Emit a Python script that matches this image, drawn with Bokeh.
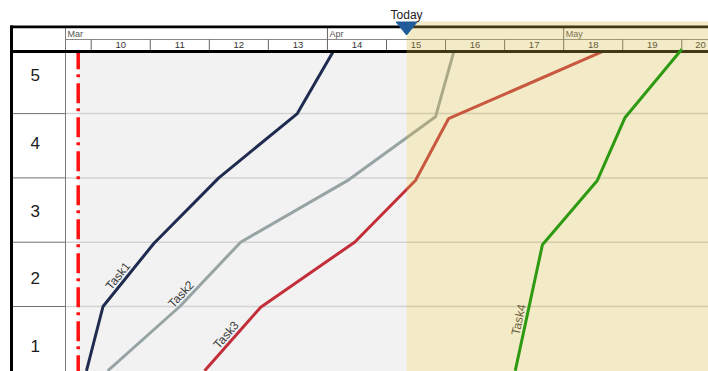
import math
from bokeh.plotting import figure
from bokeh.models import Range1d
from bokeh.core.properties import value
from bokeh.embed import file_html
from bokeh.resources import INLINE

# ---------------- data ----------------
row_labels = ["1", "2", "3", "4", "5"]
row_bounds = [1, 2, 3, 4]
day_labels = [10, 11, 12, 13, 14, 15, 16, 17, 18, 19, 20]
month_labels = ["Mar", "Apr", "May"]
month_start_day = [9.565, 14, 18]
start_day = 9.78
today_day = 15.34

task_names = ["Task1", "Task2", "Task3", "Task4"]
task1_day = [9.92, 10.20, 11.06, 12.16, 13.49, 14.12]
task1_row = [0, 1, 1.98, 3, 4, 5]
task2_day = [10.28, 11.50, 12.53, 14.36, 15.83, 16.15]
task2_row = [0, 1, 2, 2.97, 3.95, 5]
task3_day = [11.92, 12.87, 14.46, 15.49, 16.05, 18.74]
task3_row = [0, 0.99, 2, 2.96, 3.92, 5]
task4_day = [17.18, 17.64, 18.57, 19.04, 20.00]
task4_row = [0, 1.96, 2.96, 3.94, 5]

# ---------------- layout / style ----------------
W, H = 708, 371
XS = 59.06          # px per day
YS = 64.3           # px per row
X10 = 90.7          # px of day 10 start
Y0 = 370.3          # px of row 0


def dx(px):
    return 10 + (px - X10) / XS


def dy(py):
    return (Y0 - py) / YS


FONT = value("Liberation Sans")
task_colors = ["#1f2b4f", "#98a4a4", "#c22f3a", "#2e9a12"]
label_at = [1.40, 1.11, 0.48, 0.77]
cat_label_pos = [0.393, 1.451, 2.493, 3.535, 4.593]

p = figure(width=W, height=H, x_range=Range1d(dx(0), dx(W)), y_range=Range1d(dy(H), dy(0)),
           toolbar_location=None, output_backend="svg", min_border=0)
p.axis.visible = False
p.grid.visible = False
p.outline_line_color = None
p.background_fill_color = "white"
p.border_fill_color = "white"

left_px, right_px = 65, W
y_bot = dy(H)
hdr_bottom = dy(51)

# past region (grey)
p.quad(left=[start_day], right=[today_day], bottom=[y_bot], top=[hdr_bottom],
       fill_color="#f2f2f2", line_color=None)

# row grid lines in plot area
p.segment(x0=[dx(left_px)] * len(row_bounds), x1=[dx(right_px)] * len(row_bounds),
          y0=row_bounds, y1=row_bounds, line_color="#d3d3d3", line_width=1.5)

# start marker
p.line([start_day, start_day], [5, y_bot], line_color="#ff1010", line_width=3.5,
       line_dash="20 5 3 6")

tasks = [(task1_day, task1_row), (task2_day, task2_row), (task3_day, task3_row), (task4_day, task4_row)]
for i, (d, r) in enumerate(tasks[:3]):
    p.line(d, r, line_color=task_colors[i], line_width=3)

# header background
p.quad(left=[dx(11)], right=[dx(W)], bottom=[hdr_bottom], top=[dy(26)],
       fill_color="white", line_color=None)

# left column row lines
p.segment(x0=[dx(12)] * len(row_bounds), x1=[dx(left_px)] * len(row_bounds),
          y0=row_bounds, y1=row_bounds, line_color="#707070", line_width=1)
# column separator
p.segment(x0=[dx(left_px)], x1=[dx(left_px)], y0=[dy(27)], y1=[y_bot], line_color="#7a7a7a", line_width=1)

# header lines
p.segment(x0=[dx(left_px)], x1=[dx(W)], y0=[dy(39)], y1=[dy(39)], line_color="#8a8a8a", line_width=1)
p.segment(x0=day_labels, x1=day_labels, y0=[dy(39)] * len(day_labels), y1=[dy(50)] * len(day_labels),
          line_color="#666666", line_width=1)
ms = month_start_day[1:]
p.segment(x0=ms, x1=ms, y0=[dy(27)] * len(ms), y1=[dy(39)] * len(ms), line_color="#666666", line_width=1)
p.segment(x0=[dx(10)], x1=[dx(W)], y0=[dy(26.3)], y1=[dy(26.3)], line_color="black", line_width=2.8)
p.segment(x0=[dx(10)], x1=[dx(W)], y0=[dy(51)], y1=[dy(51)], line_color="black", line_width=3)
p.segment(x0=[dx(11)], x1=[dx(11)], y0=[dy(25)], y1=[y_bot], line_color="black", line_width=3)

# day labels (centred in the day, kept inside the view)
x_max = dx(W) - 8 / XS
day_x = [min(d + 0.5, x_max) for d in day_labels]
p.text(x=day_x, y=[dy(44.5)] * len(day_labels), text=[str(d) for d in day_labels],
       text_font=FONT, text_font_size=value("9.5px"), text_color="#333333",
       text_align="center", text_baseline="middle")

# month labels
p.text(x=[m + 2 / XS for m in month_start_day], y=[dy(33)] * len(month_labels), text=month_labels,
       text_font=FONT, text_font_size=value("9px"), text_color="#555555",
       text_align="left", text_baseline="middle")

# category labels
p.text(x=[dx(34.7)] * len(row_labels), y=cat_label_pos, text=row_labels,
       text_font=FONT, text_font_size=value("17px"), text_color="#1a1a1a",
       text_align="center", text_baseline="middle")

# task labels along their lines
lx, ly, la = [], [], []
for (d, r), at in zip(tasks, label_at):
    for k in range(len(r) - 1):
        if r[k] <= at <= r[k + 1]:
            t = (at - r[k]) / (r[k + 1] - r[k])
            xx = d[k] + t * (d[k + 1] - d[k])
            ang = math.atan2((r[k + 1] - r[k]) * YS, (d[k + 1] - d[k]) * XS)
            gap = 0.5
            lx.append(xx - math.sin(ang) * gap / XS)
            ly.append(at + math.cos(ang) * gap / YS)
            la.append(ang)
            break
p.text(x=lx, y=ly, text=task_names, angle=la, text_font=FONT, text_font_size=value("12px"),
       text_color="#3a3a3a", text_align="center", text_baseline="bottom")

# future region overlay
p.quad(left=[today_day], right=[dx(W)], bottom=[y_bot], top=[dy(20.7)],
       fill_color="#d7b948", fill_alpha=0.3, line_color=None)

p.line(task4_day, task4_row, line_color=task_colors[3], line_width=3)

# today marker
hw = 10.5 / XS
p.patch([today_day - hw, today_day + hw, today_day], [dy(21.5), dy(21.5), dy(34.5)],
        fill_color="#1f5c99", line_color="#1f5c99")
p.text(x=[today_day], y=[dy(14.5)], text=["Today"], text_font=FONT, text_font_size=value("12px"),
       text_color="#222222", text_align="center", text_baseline="middle")

open("out.html", "w").write(file_html(p, INLINE))
